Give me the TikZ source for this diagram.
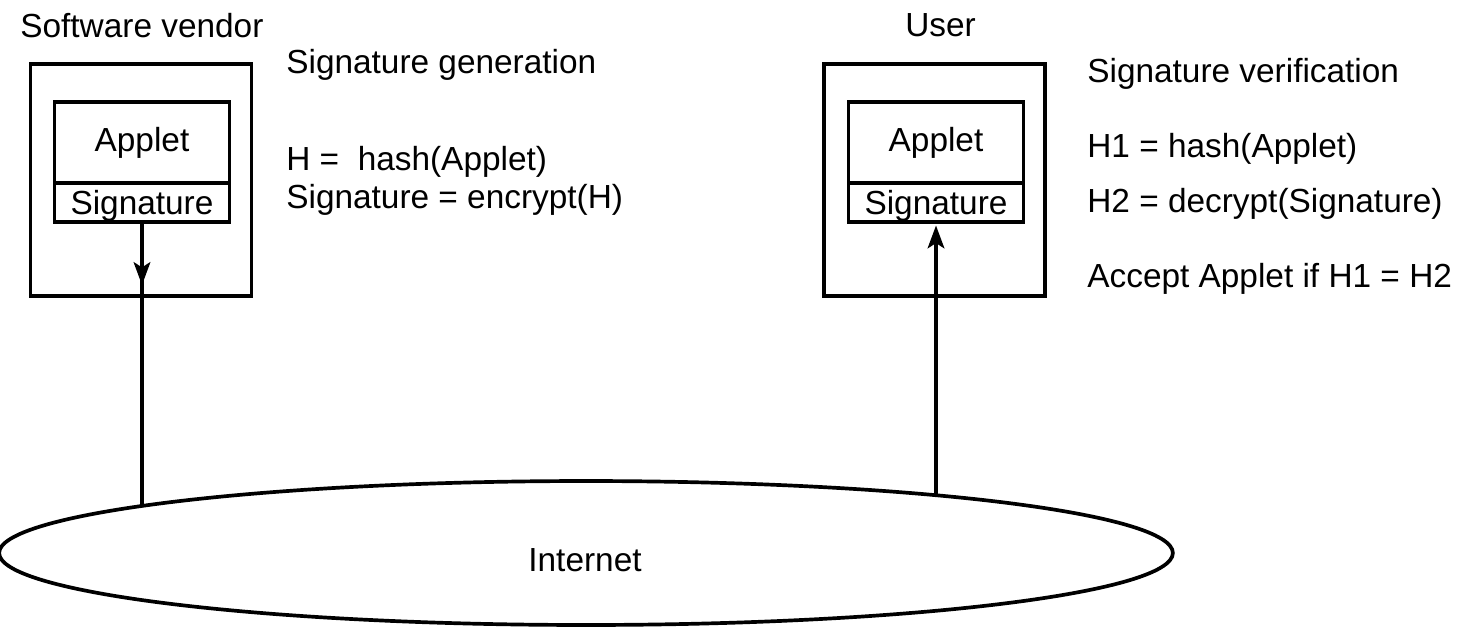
\documentclass[tikz,border=0pt]{standalone}
\usepackage{fontspec}
\setmainfont{Liberation Sans}
\usepackage{tikz}
\usetikzlibrary{positioning,shapes.geometric,arrows.meta}
\tikzset{
    outer-box/.style = {draw, line width=1.9pt, minimum width=4.42cm, minimum height=4.64cm, inner sep=0pt},
    applet-box/.style = {draw, line width=1.9pt, minimum width=3.5cm, minimum height=1.62cm, inner sep=0pt, outer sep=0pt},
    sig-box/.style = {draw, line width=1.9pt, minimum width=3.5cm, minimum height=0.78cm, inner sep=0pt, outer sep=0pt, text depth=0pt},
    plain-text/.style = {anchor=base west, inner sep=0pt},
    flow-line/.style = {line width=1.9pt},
    flow-arrow/.style = {line width=1.9pt, -{Stealth[length=13pt, width=9.5pt, inset=3pt]}},
}

\begin{document}
\begin{tikzpicture}[x=0.02cm, y=-0.02cm, font=\fontsize{19}{23}\selectfont]
\useasboundingbox (0,0) rectangle (1475,626);

% vendor side
\node[plain-text] (vendor) at (20,37) {Software vendor};
\node[outer-box] (boxL) at (141,180) {};
\node[applet-box] (appletL) at (142,142.5) {Applet};
\node[sig-box, below=0pt of appletL] (sigL) {Signature};
\node[plain-text] (gen) at (286,73) {Signature generation};
\node[plain-text] (hashL) at (286,170) {H =\ \ hash(Applet)};
\node[plain-text] (encL) at (286,208) {Signature = encrypt(H)};

% user side
\node[plain-text] (user) at (905,36) {User};
\node[outer-box] (boxR) at (934.5,180) {};
\node[applet-box] (appletR) at (936,142.5) {Applet};
\node[sig-box, below=0pt of appletR] (sigR) {Signature};
\node[plain-text] (ver) at (1087,82) {Signature verification};
\node[plain-text] (hashR) at (1087,157) {H1 = hash(Applet)};
\node[plain-text] (decR) at (1087,212) {H2 = decrypt(Signature)};
\node[plain-text] (accept) at (1087,287) {Accept Applet if H1 = H2};

% internet
\node[draw, ellipse, line width=2.1pt, minimum width=23.48cm, minimum height=2.88cm, inner sep=0pt] (net) at (586,553) {};
\node (netlabel) at (585,560) {Internet};

% connectors
\path (sigL.south) ++(0,63) coordinate (tipL);
\path (sigL.south) ++(0,284) coordinate (netL);
\path (sigR.south) ++(0,272) coordinate (netR);
\draw[flow-line] (sigL.south) -- (netL);
\draw[flow-arrow] (sigL.south) -- (tipL);
\draw[flow-arrow, shorten >=2pt] (netR) -- (sigR.south);
\end{tikzpicture}
\end{document}
